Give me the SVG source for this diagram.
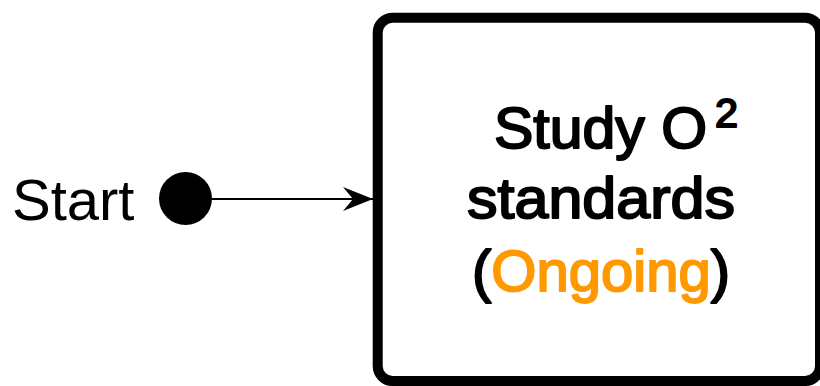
<svg xmlns="http://www.w3.org/2000/svg" width="820" height="386" viewBox="0 0 820 386">
<defs>
<style>
.t{font-family:"Liberation Sans",Arial,sans-serif;fill:#000;}
.lbl{font-size:58px;}
.node{font-size:58px;stroke:#000;stroke-width:2px;stroke-linejoin:round;}
.sup{font-size:40px;}
.or{fill:#FF9900;stroke:#FF9900;}
</style>
<marker id="arr" markerUnits="userSpaceOnUse" markerWidth="32" markerHeight="28" refX="31" refY="13" orient="auto" viewBox="0 0 32 26">
<path d="M1,1 L31,13 L1,25 L11,13 Z" fill="#000"/>
</marker>
</defs>
<rect width="820" height="386" fill="#fff"/>
<g id="start">
<text class="t lbl" x="12" y="220">Start</text>
<circle cx="185.5" cy="198.5" r="26.5" fill="#000"/>
</g>
<g id="connectors">
<line x1="212" y1="199" x2="373" y2="199" stroke="#000" stroke-width="2" marker-end="url(#arr)"/>
</g>
<g id="study">
<rect x="377.7" y="17.7" width="442.3" height="363.3" rx="15" ry="15" fill="#fff" stroke="#000" stroke-width="10"/>
<text class="t node" x="494" y="148" textLength="213" lengthAdjust="spacingAndGlyphs">Study O</text>
<text class="t node sup" x="715" y="127" textLength="23" lengthAdjust="spacingAndGlyphs">2</text>
<text class="t node" x="467" y="218" textLength="268" lengthAdjust="spacingAndGlyphs">standards</text>
<text class="t node" x="472" y="291" textLength="258" lengthAdjust="spacingAndGlyphs">(<tspan class="or">Ongoing</tspan>)</text>
</g>
</svg>
